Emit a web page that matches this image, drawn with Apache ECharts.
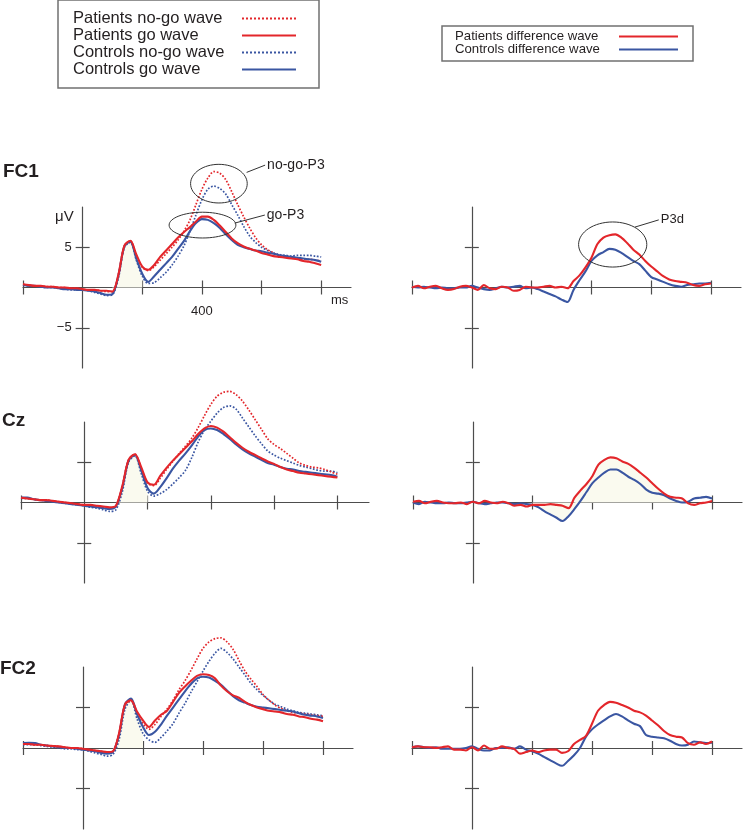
<!DOCTYPE html>
<html>
<head>
<meta charset="utf-8">
<script src="https://cdn.jsdelivr.net/npm/echarts@6/dist/echarts.min.js"></script>
<style>
  html, body { margin: 0; padding: 0; background: #fff; }
  #chart { width: 744px; height: 830px; }
</style>
</head>
<body>
<div id="chart"></div>
<script>
// ERP grand averages: go / no-go waves (left) and no-go minus go difference waves (right)

const FONT  = '"Liberation Sans", Arial, Helvetica, sans-serif';
const RED   = '#e3262b';
const BLUE  = '#3a56a2';
const AXIS  = '#4d4d4d';
const INK   = '#231f20';
const SHADE = '#fafaef';

// ── sample times (ms) ────────────────────────────────────────────────────────
const TIME = [-200,-180,-160,-140,-120,-100,-80,-60,-40,-20,
  0,20,40,60,80,100,120,140,160,180,
  200,220,240,260,280,300,320,340,360,380,
  400,420,440,460,480,500,520,540,560,580,
  600,620,640,660,680,700,720,740,760,780,800];

// ── FC1 (µV) ─────────────────────────────────────────────────────────────────
const FC1_PN = [0.4,0.3,0.2,0.2,0.1,0.1,0.0,0.0,-0.1,-0.1,
  -0.2,-0.3,-0.3,-0.4,-0.5,-0.5,1.6,5.2,5.8,4.0,
  2.5,2.1,2.6,3.4,4.2,5.0,5.9,7.0,8.4,10.3,
  12.2,13.6,14.4,14.2,13.4,11.9,10.3,8.8,7.4,6.2,
  5.3,4.7,4.3,4.0,3.9,3.7,3.6,3.5,3.5,3.4,3.3];
const FC1_PG = [0.4,0.3,0.2,0.2,0.1,0.1,0.0,0.0,-0.1,-0.1,
  -0.2,-0.3,-0.3,-0.4,-0.4,-0.5,1.6,5.2,5.8,4.1,
  2.6,2.2,2.8,3.8,4.6,5.4,6.2,6.9,7.5,8.2,
  8.8,8.8,8.4,7.7,6.9,6.1,5.5,5.1,4.8,4.6,
  4.3,4.1,3.9,3.8,3.7,3.6,3.5,3.3,3.2,3.0,2.8];
const FC1_CN = [0.3,0.2,0.2,0.1,0.0,0.0,-0.1,-0.2,-0.3,-0.3,
  -0.3,-0.4,-0.6,-0.8,-1.0,-0.9,1.2,5.0,5.6,3.4,
  1.4,0.5,0.6,1.2,1.9,2.8,3.9,5.2,7.0,9.0,
  10.9,12.2,12.6,12.3,11.6,10.3,9.0,7.6,6.4,5.6,
  5.0,4.6,4.3,4.1,4.0,3.9,4.0,4.0,4.0,3.9,3.8];
const FC1_CG = [0.3,0.2,0.2,0.1,0.0,0.0,-0.1,-0.2,-0.2,-0.3,
  -0.3,-0.4,-0.5,-0.7,-0.9,-0.8,1.5,5.1,5.7,3.6,
  1.7,0.7,1.4,2.2,3.0,3.8,4.8,5.8,7.0,8.0,
  8.5,8.4,8.0,7.4,6.6,5.9,5.3,5.0,4.8,4.6,
  4.5,4.3,4.2,4.0,3.9,3.8,3.7,3.6,3.5,3.4,3.2];
const FC1_PD = [0.0,0.2,-0.1,0.1,0.2,-0.1,-0.3,-0.2,0.1,0.2,
  0.0,-0.3,0.3,-0.1,-0.2,0.1,0.0,-0.4,-0.3,0.1,
  0.0,0.0,0.1,0.2,0.0,0.1,-0.1,0.8,1.5,2.5,
  3.7,5.4,6.2,6.5,6.6,6.2,5.5,4.7,4.1,3.3,
  2.6,2.0,1.4,1.0,0.8,0.7,0.6,0.3,0.2,0.4,0.5];
const FC1_CD = [0.1,0.0,0.1,0.0,-0.1,0.0,-0.1,-0.1,0.0,0.0,
  0.2,0.0,-0.2,-0.3,-0.1,0.1,0.0,0.1,0.2,-0.1,
  0.0,-0.2,-0.5,-0.8,-1.1,-1.5,-1.8,-0.3,0.9,2.0,
  3.3,4.0,4.4,4.8,4.7,4.3,3.8,3.3,2.9,2.1,
  1.3,1.0,0.7,0.4,0.2,0.1,0.3,0.4,0.5,0.5,0.6];

// ── Cz (µV) ──────────────────────────────────────────────────────────────────
const CZ_PN = [0.6,0.5,0.4,0.3,0.3,0.2,0.1,0.0,-0.1,-0.2,
  -0.3,-0.4,-0.5,-0.6,-0.7,-0.5,2.0,5.3,6.0,4.3,
  2.4,2.1,3.0,4.1,5.1,6.1,7.0,8.0,9.3,10.8,
  12.2,13.2,13.7,13.8,13.4,12.6,11.5,10.3,9.1,7.9,
  7.2,6.7,6.1,5.5,4.9,4.6,4.4,4.3,4.1,3.8,3.5];
const CZ_PG = [0.6,0.5,0.4,0.3,0.3,0.2,0.1,0.0,-0.1,-0.2,
  -0.3,-0.3,-0.4,-0.5,-0.6,-0.4,2.0,5.3,6.0,4.4,
  2.5,2.2,3.3,4.3,5.2,6.0,6.8,7.6,8.5,9.2,
  9.5,9.3,8.8,8.1,7.4,6.8,6.3,5.9,5.5,5.1,
  4.8,4.4,4.1,3.9,3.7,3.6,3.5,3.4,3.3,3.2,3.1];
const CZ_CN = [0.5,0.5,0.4,0.3,0.2,0.1,0.0,-0.1,-0.2,-0.3,
  -0.4,-0.6,-0.7,-0.9,-1.1,-0.9,1.3,5.0,5.8,3.6,
  1.4,0.8,1.1,1.6,2.3,3.1,4.0,5.6,7.5,9.0,
  10.1,11.1,11.8,12.0,11.6,10.5,9.4,8.3,7.3,6.4,
  5.9,5.5,5.2,4.9,4.6,4.4,4.2,4.0,3.9,3.9,3.7];
const CZ_CG = [0.6,0.6,0.4,0.3,0.2,0.1,0.0,-0.1,-0.2,-0.3,
  -0.4,-0.5,-0.6,-0.7,-0.8,-0.5,1.8,5.2,5.9,4.0,
  1.8,1.1,1.9,3.0,4.2,5.2,6.1,7.1,8.2,9.0,
  9.2,9.0,8.5,7.9,7.2,6.6,6.1,5.7,5.3,4.9,
  4.7,4.4,4.2,4.1,3.9,3.8,3.7,3.6,3.5,3.4,3.2];
const CZ_PD = [0.1,0.2,-0.1,0.1,0.2,0.0,-0.1,-0.1,0.0,-0.2,
  0.1,-0.1,0.2,0.0,-0.1,0.1,-0.1,-0.4,-0.3,-0.5,
  -0.3,-0.3,-0.3,-0.2,-0.3,-0.4,-0.7,0.6,1.5,2.3,
  3.3,4.7,5.3,5.6,5.5,5.1,4.8,4.3,3.7,3.1,
  2.4,1.7,1.1,0.7,0.6,0.5,-0.1,-0.3,-0.1,0.0,0.2];
const CZ_CD = [0.0,-0.2,0.1,0.0,-0.1,-0.1,0.0,-0.1,-0.1,0.0,
  0.1,-0.1,-0.2,-0.1,0.0,0.0,-0.1,-0.2,-0.1,-0.2,
  -0.3,-0.6,-1.1,-1.5,-1.9,-2.3,-1.7,-0.8,0.2,1.3,
  2.4,3.1,3.7,4.1,4.1,3.7,3.2,2.8,2.3,1.6,
  1.2,1.1,0.9,0.5,0.2,0.0,0.1,0.5,0.6,0.7,0.5];

// ── FC2 (µV) ─────────────────────────────────────────────────────────────────
const FC2_PN = [0.5,0.5,0.4,0.4,0.3,0.25,0.2,0.1,0.0,0.0,
  -0.1,-0.2,-0.3,-0.4,-0.5,-0.4,1.8,5.3,5.8,4.2,
  3.0,2.3,2.9,3.9,4.8,5.9,7.2,8.3,9.6,11.0,
  12.3,13.1,13.5,13.6,13.1,12.2,10.8,9.5,8.5,7.6,
  6.6,5.9,5.3,4.9,4.6,4.4,4.3,4.2,4.1,4.0,3.9];
const FC2_PG = [0.5,0.5,0.4,0.4,0.3,0.25,0.2,0.1,0.0,0.0,
  -0.1,-0.2,-0.3,-0.4,-0.5,-0.4,1.8,5.4,5.9,4.5,
  3.4,2.6,3.4,4.1,4.6,5.7,6.8,7.6,8.3,8.9,
  9.1,9.0,8.6,7.7,7.0,6.5,6.2,5.7,5.3,5.0,
  4.8,4.6,4.5,4.4,4.2,4.1,3.9,3.8,3.6,3.5,3.3];
const FC2_CN = [0.4,0.4,0.4,0.3,0.2,0.1,0.0,-0.1,-0.1,-0.2,
  -0.2,-0.4,-0.6,-0.8,-1.0,-0.8,1.0,4.8,5.9,3.6,
  1.8,1.0,0.7,1.3,2.1,3.0,4.3,5.5,6.9,8.2,
  9.5,10.7,11.7,12.3,11.8,11.0,10.0,9.0,8.0,7.2,
  6.5,5.9,5.4,5.1,4.8,4.6,4.4,4.3,4.2,4.1,4.0];
const FC2_CG = [0.6,0.65,0.6,0.4,0.3,0.2,0.1,0.0,0.0,-0.1,
  -0.2,-0.3,-0.4,-0.6,-0.7,-0.5,1.6,5.4,6.1,4.2,
  2.6,1.6,2.0,2.9,4.0,5.0,6.0,7.0,7.9,8.6,
  8.8,8.7,8.3,7.8,7.1,6.4,5.9,5.6,5.3,5.1,
  5.0,4.9,4.8,4.7,4.6,4.5,4.3,4.1,4.0,3.9,3.7];
const FC2_PD = [0.1,0.2,0.1,0.1,0.0,0.1,0.2,-0.2,-0.2,-0.3,
  0.1,-0.3,0.3,-0.1,-0.1,0.2,0.0,-0.1,-0.7,-0.5,
  -0.3,-0.5,-0.3,-0.2,-0.2,-0.6,-0.4,0.5,1.0,1.5,
  3.0,4.6,5.3,5.7,5.6,5.3,5.0,4.6,4.4,4.0,
  3.4,2.8,2.1,1.6,1.4,1.3,0.6,0.4,0.7,0.5,0.8];
const FC2_CD = [0.1,0.2,0.1,0.0,0.1,-0.1,-0.1,-0.1,-0.1,0.0,
  0.2,-0.1,-0.3,-0.3,0.0,0.0,0.1,-0.1,0.2,-0.2,
  -0.4,-0.7,-1.1,-1.5,-1.9,-2.2,-1.6,-0.9,0.0,1.4,
  2.3,2.9,3.4,3.9,4.2,3.9,3.4,3.0,2.7,1.6,
  1.4,1.3,1.2,0.9,0.5,0.3,0.4,0.8,0.7,0.6,0.65];

// ── axis ticks / labels ──────────────────────────────────────────────────────
const TICKS_X  = [-200, 200, 400, 600, 800];
const TICKS_Y  = [-5, 5];
const LABELS_X = [400];
const LABELS_Y = [-5, 5];

const GO_NAMES   = ['Patients no-go wave', 'Patients go wave', 'Controls no-go wave', 'Controls go wave'];
const DIFF_NAMES = ['Patients difference wave', 'Controls difference wave'];

const WAVE_STYLE = {
  'Patients no-go wave':      { color: RED,  type: 'dotted', width: 1.7, z: 4 },
  'Patients go wave':         { color: RED,  type: 'solid',  width: 2.1, z: 6 },
  'Controls no-go wave':      { color: BLUE, type: 'dotted', width: 1.7, z: 3 },
  'Controls go wave':         { color: BLUE, type: 'solid',  width: 2.1, z: 5 },
  'Patients difference wave': { color: RED,  type: 'solid',  width: 2.1, z: 6 },
  'Controls difference wave': { color: BLUE, type: 'solid',  width: 2.1, z: 5 }
};

// each panel: where its plot sits and which waves it draws
const PANELS = [
  { rect: {left: 23,  top: 207, width: 328, height: 161}, names: GO_NAMES,   waves: [FC1_PN, FC1_PG, FC1_CN, FC1_CG], labels: true,
    shade: [[FC1_PG, 100, 200]] },
  { rect: {left: 412, top: 207, width: 329, height: 161}, names: DIFF_NAMES, waves: [FC1_PD, FC1_CD] },
  { rect: {left: 21,  top: 422, width: 348, height: 161}, names: GO_NAMES,   waves: [CZ_PN, CZ_PG, CZ_CN, CZ_CG],
    shade: [[CZ_PG, 100, 200]] },
  { rect: {left: 413, top: 422, width: 329, height: 161}, names: DIFF_NAMES, waves: [CZ_PD, CZ_CD],
    shade: [[CZ_PD, 340, 720], [CZ_CD, 200, 360]] },
  { rect: {left: 23,  top: 667, width: 330, height: 162}, names: GO_NAMES,   waves: [FC2_PN, FC2_PG, FC2_CN, FC2_CG],
    shade: [[FC2_PG, 100, 200]] },
  { rect: {left: 412, top: 667, width: 330, height: 162}, names: DIFF_NAMES, waves: [FC2_PD, FC2_CD] }
];

// annotation ellipses, in data units (ms, µV)
const ANNOTATIONS = [
  { panel: 0, text: 'no-go-P3', size: 14, center: [457, 12.9], radius: [95, 2.4],  from: [550, 14.3], to: [612, 15.2] },
  { panel: 0, text: 'go-P3',    size: 14, center: [402, 7.75], radius: [112, 1.6], from: [510, 8.0],  to: [611, 9.0] },
  { panel: 1, text: 'P3d',      size: 13, center: [471, 5.34], radius: [114, 2.8], from: [545, 7.5],  to: [625, 8.4] }
];

const pairs = vals => TIME.map((t, i) => [t, vals[i]]);
const window_ = (vals, t0, t1) => pairs(vals).filter(d => d[0] >= t0 && d[0] <= t1);
const minus = v => (v < 0 ? '\u2212' + Math.abs(v) : String(v));

const grids = [], xAxes = [], yAxes = [], series = [];

PANELS.forEach((p, g) => {
  grids.push(Object.assign({}, p.rect));
  const ai = 2 * g;
  const line = { color: AXIS, width: 1.2 };
  const tick = pos => ({ customValues: pos, length: 7, lineStyle: line });

  // main x axis (line, ticks below) + twin (ticks above) so the ticks cross the line
  xAxes.push({
    gridIndex: g, type: 'value', min: -200, max: 900, position: 'bottom',
    axisLine: { onZero: true, onZeroAxisIndex: ai, lineStyle: line },
    axisTick: tick(TICKS_X), axisLabel: { show: false }, splitLine: { show: false }
  });
  xAxes.push({
    gridIndex: g, type: 'value', min: -200, max: 900, position: 'top',
    axisLine: { show: false, onZero: true, onZeroAxisIndex: ai },
    axisTick: tick(TICKS_X), axisLabel: { show: false }, splitLine: { show: false }
  });

  yAxes.push({
    gridIndex: g, type: 'value', min: -10, max: 10, position: 'left',
    axisLine: { onZero: true, onZeroAxisIndex: ai, lineStyle: line },
    axisTick: tick(TICKS_Y), axisLabel: { show: false }, splitLine: { show: false }
  });
  yAxes.push({
    gridIndex: g, type: 'value', min: -10, max: 10, position: 'right',
    axisLine: { show: false, onZero: true, onZeroAxisIndex: ai },
    axisTick: tick(TICKS_Y), axisLabel: { show: false }, splitLine: { show: false }
  });

  (p.shade || []).forEach(([vals, t0, t1]) => {
    series.push({
      type: 'line', xAxisIndex: ai, yAxisIndex: ai, data: window_(vals, t0, t1),
      smooth: 0.3, symbol: 'none', silent: true, clip: false, z: 1,
      lineStyle: { width: 0 }, areaStyle: { color: SHADE, opacity: 1 }
    });
  });

  p.names.forEach((name, k) => {
    const s = WAVE_STYLE[name];
    series.push({
      name, type: 'line', xAxisIndex: ai, yAxisIndex: ai, data: pairs(p.waves[k]),
      smooth: 0.3, symbol: 'none', showSymbol: false, silent: true, clip: false, z: s.z,
      itemStyle: { color: s.color },
      lineStyle: { color: s.color, width: s.width, type: s.type }
    });
  });
});

const legendBase = {
  orient: 'vertical', align: 'right', itemGap: 0, itemHeight: 14,
  borderColor: '#707070', borderWidth: 1.5, selectedMode: false,
  itemStyle: { opacity: 0 },
  formatter: n => '{t|' + n + '}'
};

const option = {
  animation: false,
  backgroundColor: '#fff',
  grid: grids,
  xAxis: xAxes,
  yAxis: yAxes,
  legend: [
    Object.assign({}, legendBase, {
      data: GO_NAMES, left: 58, top: 0, padding: [10, 22, 10, 15], itemWidth: 54,
      textStyle: { width: 164, rich: { t: { align: 'left', fontSize: 16.5, lineHeight: 19.3, color: INK, fontFamily: FONT } } }
    }),
    Object.assign({}, legendBase, {
      data: DIFF_NAMES, left: 442, top: 26, padding: [4, 14, 5, 13], itemWidth: 59,
      textStyle: { width: 159, rich: { t: { align: 'left', fontSize: 13.2, lineHeight: 18, color: INK, fontFamily: FONT } } }
    })
  ],
  series
};

const chart = echarts.init(document.getElementById('chart'));
chart.setOption(option);

// ── labels and annotations ───────────────────────────────────────────────────
const toPx = (g, v) => chart.convertToPixel({ xAxisIndex: 2 * g, yAxisIndex: 2 * g }, v);
const text = (t, x, y, size, extra) => ({
  type: 'text', x, y, silent: true, z: 10,
  style: Object.assign({ text: t, fontSize: size, fontFamily: FONT, fill: INK, verticalAlign: 'middle' }, extra || {})
});

const graphics = [
  text('FC1', 3, 172, 19, { fontWeight: 'bold' }),
  text('Cz',  2, 421, 19, { fontWeight: 'bold' }),
  text('FC2', 0, 669, 19, { fontWeight: 'bold' }),
  text('\u03bcV', 55, 217, 15),
  text('ms', 331, 300, 13)
];

// tick labels of the first panel (value axis labels would sit at the grid edge)
PANELS.forEach((p, g) => {
  if (!p.labels) return;
  LABELS_Y.forEach(v => {
    const pt = toPx(g, [0, v]);
    graphics.push(text(minus(v), pt[0] - 11, pt[1], 13, { align: 'right' }));
  });
  LABELS_X.forEach(v => {
    const pt = toPx(g, [v, 0]);
    graphics.push(text(String(v), pt[0], pt[1] + 24, 13, { align: 'center' }));
  });
});

ANNOTATIONS.forEach(a => {
  const c = toPx(a.panel, a.center);
  const e = toPx(a.panel, [a.center[0] + a.radius[0], a.center[1] + a.radius[1]]);
  const p1 = toPx(a.panel, a.from);
  const p2 = toPx(a.panel, a.to);
  graphics.push({
    type: 'ellipse', silent: true, z: 10,
    shape: { cx: c[0], cy: c[1], rx: Math.abs(e[0] - c[0]), ry: Math.abs(e[1] - c[1]) },
    style: { fill: null, stroke: '#333', lineWidth: 1 }
  });
  graphics.push({
    type: 'line', silent: true, z: 10,
    shape: { x1: p1[0], y1: p1[1], x2: p2[0], y2: p2[1] },
    style: { stroke: '#333', lineWidth: 1 }
  });
  graphics.push(text(a.text, p2[0] + 2, p2[1], a.size));
});

chart.setOption({ graphic: graphics });
</script>
</body>
</html>
